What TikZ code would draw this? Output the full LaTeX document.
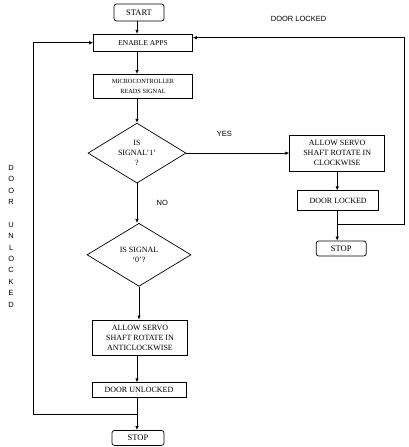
\documentclass[tikz,border=0pt]{standalone}
\usepackage{fontspec}
\setmainfont{Liberation Serif}
\setsansfont{Liberation Sans}
\usetikzlibrary{arrows.meta,positioning,calc,shapes.geometric}

\begin{document}
\begin{tikzpicture}[
  x=1pt,y=-1pt,
  font=\fontsize{8}{10}\selectfont,
  box/.style={draw,line width=0.7pt,inner sep=1.5pt,align=center},
  term/.style={box,rounded corners=2.5pt,font=\fontsize{8.5}{10}\selectfont},
  decision/.style={draw,line width=0.7pt,diamond,aspect=1.6,inner sep=0pt,align=center},
  lbl/.style={font=\sffamily\fontsize{7.5}{9}\selectfont},
  arr/.style={-{Latex[length=4pt,width=3.5pt]},line width=0.7pt}
]
\useasboundingbox (0,0) rectangle (408,447);
% main column
\node[term,minimum width=50pt,minimum height=17pt] (start) at (139,12.5) {START};
\node[box,below=12.5pt of start,xshift=4pt,minimum width=99pt,minimum height=17pt,font=\fontsize{7.5}{9}\selectfont] (enable) {ENABLE APPS};
\node[box,below=22.5pt of enable,minimum width=99pt,minimum height=24pt,font=\fontsize{6.3}{10}\selectfont] (micro) {MICROCONTROLLER\\READS SIGNAL};
\node[decision,below=24pt of micro,xshift=-6pt,minimum width=98pt,minimum height=60pt] (sig1) {IS\\SIGNAL'1'\\?};
\node[decision,below=39.5pt of sig1,xshift=2pt,minimum width=104pt,minimum height=63pt] (sig0) {IS SIGNAL\\`0'?};
\node[box,below=33pt of sig0,xshift=1pt,minimum width=95pt,minimum height=35pt] (acw) {ALLOW SERVO\\SHAFT ROTATE IN\\ANTICLOCKWISE};
\node[box,below=27pt of acw,xshift=-1pt,minimum width=94pt,minimum height=15pt] (unlocked) {DOOR UNLOCKED};
\node[term,below=32pt of unlocked,xshift=-1pt,minimum width=52pt,minimum height=15pt] (stopB) {STOP};
% right branch
\node[box,right=103pt of sig1,minimum width=95pt,minimum height=36pt] (cw) {ALLOW SERVO\\SHAFT ROTATE IN\\CLOCKWISE};
\node[box,below=19pt of cw,xshift=1pt,minimum width=81pt,minimum height=20pt] (locked) {DOOR LOCKED};
\node[term,below=29.5pt of locked,xshift=3pt,minimum width=50pt,minimum height=15pt] (stopA) {STOP};

\draw[arr] (start.south -| sig1) -- (enable.north -| sig1);
\draw[arr] (enable.south -| sig1) -- (micro.north -| sig1);
\draw[arr] (micro.south -| sig1) -- (sig1.north);
\draw[arr] (sig1.south) -- node[lbl,right=16pt] (no) {NO} (sig1.south |- sig0.north);
\draw[arr] (sig0.south) -- (sig0.south |- acw.north);
\draw[arr] (acw.south -| sig1) -- (unlocked.north -| sig1);
\draw[arr] (unlocked.south -| sig1) -- (stopB.north -| sig1);
\draw[arr] (sig1.east) -- node[lbl,pos=0.37,above=13pt] (yes) {YES} (cw.west);
\draw[arr] (cw.south) -- (cw.south |- locked.north);
\draw[arr] (locked.south -| cw) -- (stopA.north -| cw);

% loops back to enable apps
\coordinate (lbranch) at ($(unlocked.south -| sig1)!0.5!(stopB.north -| sig1)$);
\coordinate (loopL) at ([xshift=-59.5pt]enable.west);
\draw[arr] (lbranch) -| (loopL) -- (enable.west);
\node[lbl,align=center,left=16pt,font=\sffamily\fontsize{7.5}{11.4}\selectfont] (unlocktxt) at ($(lbranch -| loopL)!0.479!(loopL)$) {D\\O\\O\\R\\[11.4pt]U\\N\\L\\O\\C\\K\\E\\D};

\coordinate (rbranch) at ($(locked.south -| cw)!0.45!(stopA.north -| cw)$);
\coordinate (loopR) at ([xshift=211.5pt,yshift=5pt]enable.east);
\draw[arr] (rbranch) -| (loopR) -- node[lbl,above=12pt] (locktxt) {DOOR LOCKED} (loopR -| enable.east);
\end{tikzpicture}
\end{document}
